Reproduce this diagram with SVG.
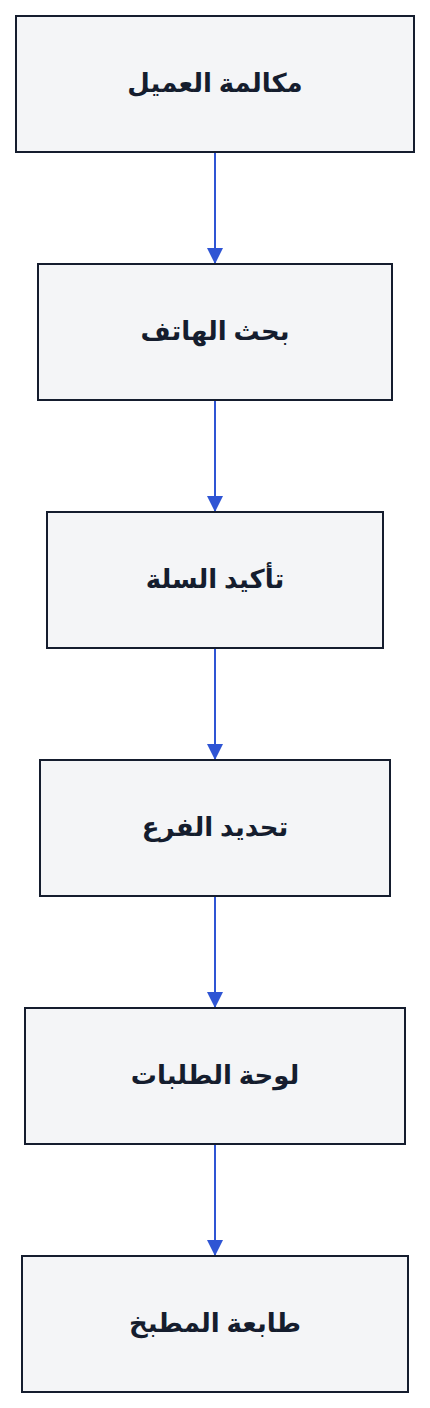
<svg xmlns="http://www.w3.org/2000/svg" width="430" height="1408" viewBox="0 0 430 1408">
<style>
.box{fill:#f4f5f7;stroke:#151d2e;stroke-width:2}
.lbl{font-family:"Noto Sans","DejaVu Sans",sans-serif;font-size:26px;font-weight:bold;fill:#151d2e;text-anchor:middle;dominant-baseline:central}
.edge{stroke:#2f55d4;stroke-width:2;fill:none}
</style>
<defs>
<marker id="arr" markerUnits="userSpaceOnUse" markerWidth="16" markerHeight="16" refX="16" refY="8" orient="auto" viewBox="0 0 16 16">
<path d="M0,0 L16,8 L0,16 Z" fill="#2f55d4"/>
</marker>
</defs>
<rect width="430" height="1408" fill="#ffffff"/>
<g id="connectors">
<line class="edge" x1="215" y1="152" x2="215" y2="264" marker-end="url(#arr)"/>
<line class="edge" x1="215" y1="400" x2="215" y2="512" marker-end="url(#arr)"/>
<line class="edge" x1="215" y1="648" x2="215" y2="760" marker-end="url(#arr)"/>
<line class="edge" x1="215" y1="896" x2="215" y2="1008" marker-end="url(#arr)"/>
<line class="edge" x1="215" y1="1144" x2="215" y2="1256" marker-end="url(#arr)"/>
</g>
<g id="n1"><rect class="box" x="16" y="16" width="398" height="136"/><text class="lbl" x="215" y="82" direction="rtl">مكالمة العميل</text></g>
<g id="n2"><rect class="box" x="38" y="264" width="354" height="136"/><text class="lbl" x="215" y="330" direction="rtl">بحث الهاتف</text></g>
<g id="n3"><rect class="box" x="47" y="512" width="336" height="136"/><text class="lbl" x="215" y="578" direction="rtl">تأكيد السلة</text></g>
<g id="n4"><rect class="box" x="40" y="760" width="350" height="136"/><text class="lbl" x="215" y="826" direction="rtl">تحديد الفرع</text></g>
<g id="n5"><rect class="box" x="25" y="1008" width="380" height="136"/><text class="lbl" x="215" y="1074" direction="rtl">لوحة الطلبات</text></g>
<g id="n6"><rect class="box" x="22" y="1256" width="386" height="136"/><text class="lbl" x="215" y="1322" direction="rtl">طابعة المطبخ</text></g>
</svg>
